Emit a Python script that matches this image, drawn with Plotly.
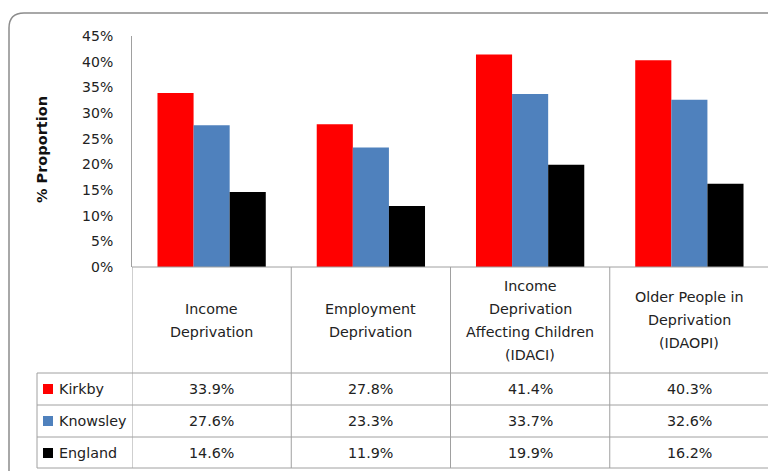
import plotly.graph_objects as go

categories = ["Income<br>Deprivation", "Employment<br>Deprivation",
              "Income<br>Deprivation<br>Affecting Children<br>(IDACI)",
              "Older People in<br>Deprivation<br>(IDAOPI)"]
series_names = ["Kirkby", "Knowsley", "England"]
kirkby = [33.9, 27.8, 41.4, 40.3]
knowsley = [27.6, 23.3, 33.7, 32.6]
england = [14.6, 11.9, 19.9, 16.2]
y_ticks = [0, 5, 10, 15, 20, 25, 30, 35, 40, 45]

colors = ["#ff0000", "#4f81bd", "#000000"]
W, H = 776, 471
OFF = 8  # page body margin
# plot area in page pixels: x 132..769, y 36..267
PL, PR, PT, PB = 132, 769, 36, 267
font = "DejaVu Sans"
grey = "#a0a0a0"


def px(x):
    return (x - PL) / (PR - PL)


def py(y):
    return (PB - y) / (PB - PT)


xs = list(range(len(categories)))
fig = go.Figure()
for name, vals, c in zip(series_names, [kirkby, knowsley, england], colors):
    fig.add_trace(go.Bar(x=xs, y=vals, name=name, marker=dict(color=c, line=dict(width=0))))

fig.update_layout(width=W - OFF, height=H - OFF,
                  margin=dict(l=PL - OFF, r=W - PR, t=PT - OFF, b=H - PB, pad=0),
                  plot_bgcolor="white", paper_bgcolor="white", showlegend=False,
                  bargap=0.32, bargroupgap=0, font=dict(family=font, size=14, color="#222"))
fig.update_xaxes(range=[-0.5, 3.5], showticklabels=False, ticks="", showgrid=False,
                 zeroline=False, showline=False)
fig.update_yaxes(range=[0, 45], tickvals=y_ticks, ticktext=[f"{v}%" for v in y_ticks],
                 showgrid=False, zeroline=False, showline=True, linecolor=grey, linewidth=1,
                 ticks="", ticklabelstandoff=15, tickfont=dict(size=14, color="#222"))

# axis title
fig.add_annotation(xref="paper", yref="paper", x=px(42), y=py(150), text="<b>% Proportion</b>",
                   textangle=-90, showarrow=False, xanchor="center", yanchor="middle",
                   font=dict(size=14.5, color="#111"))

line = dict(color=grey, width=1)
# table horizontal lines
fig.add_shape(type="line", xref="paper", yref="paper", x0=px(132), x1=px(769), y0=py(267), y1=py(267), line=line)
for yy in [373, 405, 437, 468]:
    fig.add_shape(type="line", xref="paper", yref="paper", x0=px(37), x1=px(769), y0=py(yy), y1=py(yy), line=line)
# table vertical lines
fig.add_shape(type="line", xref="paper", yref="paper", x0=px(37), x1=px(37), y0=py(373), y1=py(468), line=line)
for i in range(len(categories) + 1):
    fig.add_shape(type="line", xref="x", yref="paper", x0=i - 0.5, x1=i - 0.5, y0=py(267), y1=py(468), line=line)

# header labels, one line at a time for Excel-like line spacing
LINE_H = 23
for i, cat in enumerate(categories):
    parts = cat.split("<br>")
    top = 320 - LINE_H * (len(parts) - 1) / 2
    for k, part in enumerate(parts):
        fig.add_annotation(xref="x", yref="paper", x=i, y=py(top + k * LINE_H), text=part,
                           showarrow=False, font=dict(size=14.3, color="#222"),
                           xanchor="center", yanchor="middle")

# rows
row_y = [389, 421, 453]
for name, vals, c, yy in zip(series_names, [kirkby, knowsley, england], colors, row_y):
    fig.add_shape(type="rect", xref="paper", yref="paper", x0=px(43), x1=px(53),
                  y0=py(yy - 5), y1=py(yy + 5), fillcolor=c, line=dict(width=0))
    fig.add_annotation(xref="paper", yref="paper", x=px(57), y=py(yy), text=name, showarrow=False,
                       xanchor="left", yanchor="middle", font=dict(size=14.3, color="#222"))
    for i, v in enumerate(vals):
        fig.add_annotation(xref="x", yref="paper", x=i, y=py(yy), text=f"{v:.1f}%", showarrow=False,
                           xanchor="center", yanchor="middle", font=dict(size=14.3, color="#222"))

# outer rounded border
r = 15
path = (f"M {px(9)},{py(480)} L {px(9)},{py(13 + r)} "
        f"Q {px(9)},{py(13)} {px(9 + r)},{py(13)} L {px(775)},{py(13)}")
fig.add_shape(type="path", xref="paper", yref="paper", path=path, line=dict(color="#8c8c8c", width=1.5))

fig.write_html("out.html")
